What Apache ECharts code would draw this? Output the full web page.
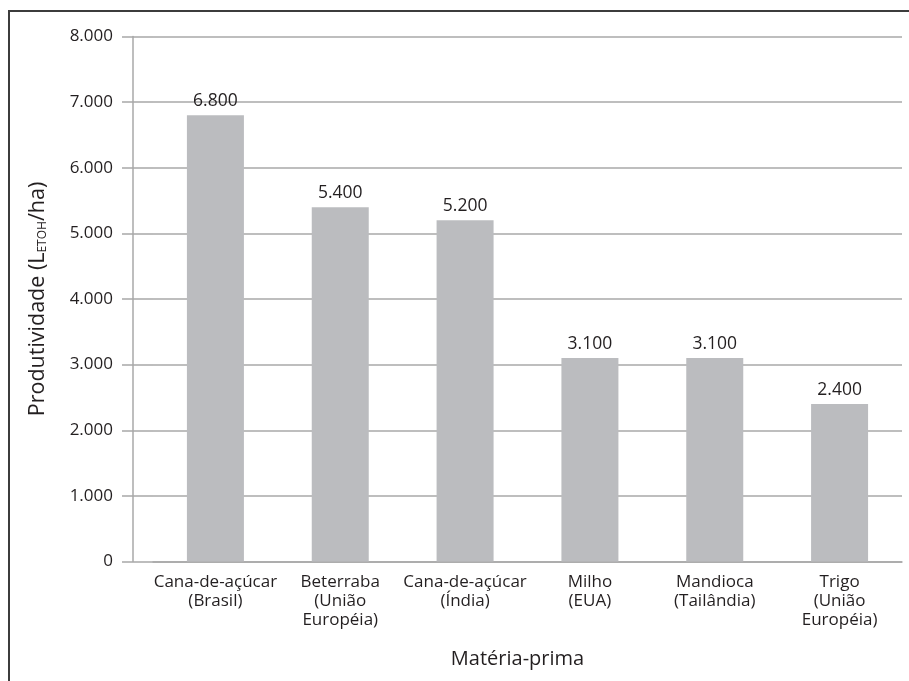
<!DOCTYPE html>
<html>
<head>
<meta charset="utf-8">
<style>
  html, body { margin: 0; padding: 0; background: #ffffff; }
  #chart { width: 909px; height: 681px; }
</style>
<script src="https://cdn.jsdelivr.net/npm/echarts@6/dist/echarts.min.js"></script>
</head>
<body>
<div id="chart"></div>
<script>
// Ethanol yield per hectare by feedstock
const categories = [
  'Cana-de-açúcar\n(Brasil)',
  'Beterraba\n(União\nEuropéia)',
  'Cana-de-açúcar\n(Índia)',
  'Milho\n(EUA)',
  'Mandioca\n(Tailândia)',
  'Trigo\n(União\nEuropéia)'
];
const productivity = [6800, 5400, 5200, 3100, 3100, 2400];
const yMin = 0;
const yMax = 8000;
const yStep = 1000;

const FONT = '"Open Sans", "Noto Sans", sans-serif';
const TEXT = '#231f20';
const GRID = '#a8a8a8';

// pt-BR thousands separator: 6800 -> "6.800"
const fmt = v => String(v).replace(/\B(?=(\d{3})+(?!\d))/g, '.');

const chart = echarts.init(document.getElementById('chart'), null, { renderer: 'canvas' });

chart.setOption({
  backgroundColor: '#ffffff',
  animation: false,
  textStyle: { fontFamily: FONT, color: TEXT },
  graphic: [{
    type: 'rect',
    silent: true,
    shape: { x: 9, y: 11, width: 1000, height: 1000 },
    style: { fill: 'none', stroke: '#3c3c3c', lineWidth: 2 }
  }],
  grid: { left: 153, right: 7, top: 36.5, height: 525, containLabel: false },
  xAxis: {
    type: 'category',
    data: categories,
    name: 'Matéria-prima',
    nameLocation: 'middle',
    nameGap: 88,
    nameTextStyle: { fontFamily: FONT, fontSize: 20, color: TEXT, padding: [0, 20, 0, 0] },
    axisLine: { show: true, lineStyle: { color: GRID, width: 1.5 } },
    axisTick: { show: false },
    axisLabel: {
      interval: 0,
      margin: 11,
      fontFamily: FONT,
      fontSize: 17,
      lineHeight: 19,
      color: TEXT
    }
  },
  yAxis: [{
    type: 'value',
    min: yMin,
    max: yMax,
    interval: yStep,
    offset: 20,
    name: '{a|Produtividade (L}{s|ETOH}{a|/ha)}',
    nameLocation: 'middle',
    nameGap: 84,
    nameRotate: 90,
    nameTextStyle: {
      rich: {
        a: { fontFamily: FONT, fontSize: 21.5, color: TEXT },
        s: { fontFamily: FONT, fontSize: 12, color: TEXT, verticalAlign: 'bottom', padding: [8, 0, 0, 0] }
      }
    },
    axisLine: { show: true, lineStyle: { color: GRID, width: 1.5 } },
    axisTick: { show: true, length: 11, lineStyle: { color: GRID, width: 1.5 } },
    axisLabel: {
      margin: 20,
      fontFamily: FONT,
      fontSize: 17,
      color: TEXT,
      formatter: v => fmt(v)
    },
    splitLine: { show: true, lineStyle: { color: GRID, width: 1.5 } }
  }, {
    // extends each gridline leftwards to the offset axis line
    type: 'value',
    min: yMin,
    max: yMax,
    interval: yStep,
    position: 'left',
    offset: 0,
    axisLine: { show: false },
    axisTick: { show: true, length: 20, lineStyle: { color: GRID, width: 1.5 } },
    axisLabel: { show: false },
    splitLine: { show: false }
  }],
  series: [{
    type: 'bar',
    yAxisIndex: 0,
    data: productivity,
    barWidth: 57,
    itemStyle: { color: '#bbbcbf' },
    label: {
      show: true,
      position: 'top',
      distance: 5,
      fontFamily: FONT,
      fontSize: 17.5,
      color: TEXT,
      formatter: p => fmt(p.value)
    }
  }]
});
</script>
</body>
</html>
